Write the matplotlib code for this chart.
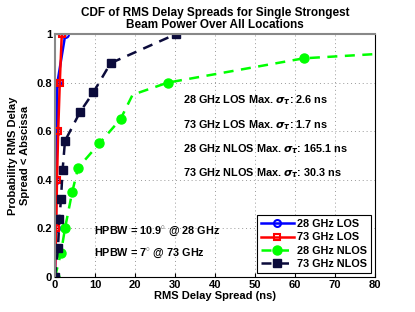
import matplotlib
matplotlib.use("Agg")
import matplotlib.pyplot as plt
import numpy as np

# --- data ---
los28_x = [0, 0.2, 0.3, 0.4, 0.6, 2.6]
los28_y = [0, 0.2, 0.4, 0.6, 0.8, 1.0]
los73_x = [0, 0.3, 0.5, 0.8, 1.2, 1.7]
los73_y = [0, 0.2, 0.4, 0.6, 0.8, 1.0]
nlos28_x = [0, 1.5, 2.5, 4.3, 5.8, 11.1, 16.4, 19.4, 28.2, 62.2, 165.1]
nlos28_y = [0, 0.10, 0.20, 0.35, 0.45, 0.55, 0.65, 0.75, 0.80, 0.90, 1.0]
nlos28_marks = [0, 1, 2, 3, 4, 5, 6, 8, 9]
nlos73_x = [0, 0.75, 1.1, 1.5, 1.9, 2.5, 6.3, 9.6, 13.9, 30.3]
nlos73_y = [0, 0.12, 0.24, 0.32, 0.44, 0.56, 0.68, 0.76, 0.88, 1.0]

labels = ["28 GHz LOS", "73 GHz LOS", "28 GHz NLOS", "73 GHz NLOS"]
notes = ["28 GHz LOS Max. $\\sigma_\\tau$: 2.6 ns",
         "73 GHz LOS Max. $\\sigma_\\tau$: 1.7 ns",
         "28 GHz NLOS Max. $\\sigma_\\tau$: 165.1 ns",
         "73 GHz NLOS Max. $\\sigma_\\tau$: 30.3 ns"]
hpbw = ["HPBW = 10.9$^{\\circ}$ @ 28 GHz", "HPBW = 7$^{\\circ}$ @ 73 GHz"]

plt.rcParams['font.family'] = ['Liberation Sans', 'DejaVu Sans']
plt.rcParams['font.weight'] = 'bold'
plt.rcParams['mathtext.fontset'] = 'custom'
plt.rcParams['mathtext.rm'] = 'Liberation Sans:bold'
plt.rcParams['mathtext.it'] = 'DejaVu Sans:italic'

fig = plt.figure(figsize=(4.15, 3.12), dpi=100)
ax = fig.add_axes([0.1325, 0.112, 0.771, 0.779])

navy = '#0b0b3b'
ax.plot(los28_x, los28_y, '-o', color='blue', lw=1.8, ms=5, mfc='none', mew=1.5, label=labels[0])
ax.plot(los73_x, los73_y, '-s', color='red', lw=1.8, ms=4.5, mfc='none', mew=1.5, label=labels[1])
ax.plot(nlos28_x, nlos28_y, '--o', color='#00ff00', lw=1.8, ms=6.5, dashes=(4, 3),
        markevery=nlos28_marks, label=labels[2])
ax.plot(nlos73_x, nlos73_y, '--s', color=navy, lw=1.8, ms=5.2, dashes=(4, 3), label=labels[3])

ax.set_xlim(0, 80)
ax.set_ylim(0, 1)
ax.set_xticks(np.arange(0, 81, 10))
ax.set_yticks([0, 0.2, 0.4, 0.6, 0.8, 1])
ax.set_yticklabels(["0", "0.2", "0.4", "0.6", "0.8", "1"])
ax.tick_params(direction='in', labelsize=8, length=3, pad=2)
ax.grid(True, linestyle=(0, (1, 3)), color='#999999', lw=0.7)

ax.spines['left'].set_color('#888888')
ax.spines['top'].set_color('#888888')
ax.spines['left'].set_linewidth(1.5)
ax.spines['top'].set_linewidth(1.5)

ax.set_title("CDF of RMS Delay Spreads for Single Strongest\nBeam Power Over All Locations",
             fontsize=8.5, fontweight='bold', pad=4, linespacing=1.1)
ax.set_xlabel("RMS Delay Spread (ns)", fontsize=8, fontweight='bold', labelpad=1)
ax.set_ylabel("Probability RMS Delay\nSpread < Abscissa", fontsize=8, fontweight='bold', labelpad=5)

for txt, yy in zip(notes, [0.728, 0.625, 0.527, 0.428]):
    ax.text(32, yy, txt, fontsize=7.8, fontweight='bold', va='center')
for txt, yy in zip(hpbw, [0.186, 0.099]):
    ax.text(9.75, yy, txt, fontsize=7.8, fontweight='bold', va='center')

leg = ax.legend(loc='lower right', fontsize=7.8, handlelength=3.0, borderpad=0.35,
                labelspacing=0.3, handletextpad=0.3, fancybox=False, framealpha=1,
                edgecolor='black', borderaxespad=0.4)
leg.get_frame().set_linewidth(0.8)

fig.savefig("out.png", dpi=100)
